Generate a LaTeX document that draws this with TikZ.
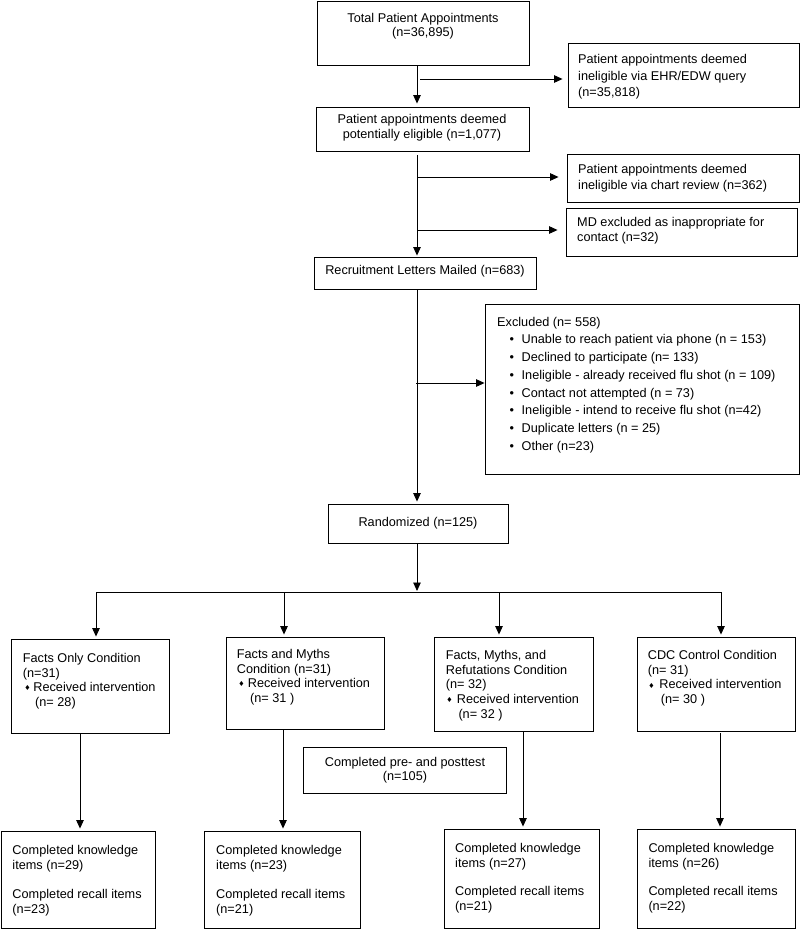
\documentclass[tikz,border=0pt]{standalone}
\usepackage{fontspec}
\setmainfont{Liberation Sans}
\newfontfamily\djv{DejaVu Sans}
\usetikzlibrary{arrows.meta}
\newcommand{\dmd}[1]{\makebox[#1][l]{\raisebox{0.8pt}{\djv\fontsize{7}{7}\selectfont ♦}}}
\newcommand{\bul}{\hspace*{12.5pt}\makebox[12pt][l]{\textbullet}}
\tikzset{
 box/.style={draw, line width=0.9pt, inner sep=0pt},
 lt/.style={anchor=north west, align=left, inner sep=0pt, font=\fontsize{12.7}{#1}\selectfont},
 lt/.default=16,
 ct/.style={anchor=north, align=center, inner sep=0pt, font=\fontsize{12.7}{#1}\selectfont},
 ct/.default=14,
 arr/.style={line width=0.9pt, -{Triangle[length=8.5pt,width=7.5pt]}},
 ln/.style={line width=0.9pt}
}
\begin{document}
\begin{tikzpicture}[x=1pt,y=-1pt]
\useasboundingbox (0,0) rectangle (800,929);
% boxes
\node[box, minimum width=212pt, minimum height=64pt] (b1) at (423,33) {};
\node[box, minimum width=231pt, minimum height=64pt] (ehr) at (683.5,75) {};
\node[box, minimum width=213pt, minimum height=44pt] (b2) at (422.5,129) {};
\node[box, minimum width=232pt, minimum height=48pt] (chart) at (683,178) {};
\node[box, minimum width=231pt, minimum height=48pt] (md) at (681.5,232) {};
\node[box, minimum width=222pt, minimum height=32pt] (b3) at (425,273) {};
\node[box, minimum width=314pt, minimum height=170pt] (excl) at (642,389) {};
\node[box, minimum width=180pt, minimum height=39pt] (rand) at (418,523.5) {};
\node[box, minimum width=158pt, minimum height=94pt] (c1) at (90,686) {};
\node[box, minimum width=158pt, minimum height=92pt] (c2) at (305,683) {};
\node[box, minimum width=159pt, minimum height=94pt] (c3) at (513.5,684) {};
\node[box, minimum width=158pt, minimum height=94pt] (c4) at (716,684) {};
\node[box, minimum width=203pt, minimum height=46pt] (pp) at (404.5,770) {};
\node[box, minimum width=154pt, minimum height=97pt] (k1) at (78,879.5) {};
\node[box, minimum width=156pt, minimum height=97pt] (k2) at (282,879.5) {};
\node[box, minimum width=155pt, minimum height=99pt] (k3) at (521.5,878.5) {};
\node[box, minimum width=158pt, minimum height=99pt] (k4) at (716,878.5) {};
% texts
\node[ct=14] (t1) at (423,13.5) {Total Patient Appointments\\(n=36,895)};
\node[lt=16.7] (tehr) at (578,54.1) {Patient appointments deemed\\ineligible via EHR/EDW query\\(n=35,818)};
\node[ct=14.5] (t2) at (422,114.3) {Patient appointments deemed\\potentially eligible (n=1,077)};
\node[lt=16.3] (tchart) at (578,163.8) {Patient appointments deemed\\ineligible via chart review (n=362)};
\node[lt=15] (tmd) at (577,217.3) {MD excluded as inappropriate for\\contact (n=32)};
\node[ct] (t3) at (425,264.8) {Recruitment Letters Mailed (n=683)};
\node[lt=17.7] (texcl) at (497,316.8) {Excluded (n= 558)\\
\bul Unable to reach patient via phone (n = 153)\\
\bul Declined to participate (n= 133)\\
\bul Ineligible - already received flu shot (n = 109)\\
\bul Contact not attempted (n = 73)\\
\bul Ineligible - intend to receive flu shot (n=42)\\
\bul Duplicate letters (n = 25)\\
\bul Other (n=23)};
\node[ct] (trand) at (418,517.5) {Randomized (n=125)};
\node[lt=14.6] (tc1) at (22.7,653.1) {Facts Only Condition\\(n=31)\\\hspace*{1.5pt}\dmd{9pt}Received intervention\\\hspace*{12.3pt}(n= 28)};
\node[lt=14.6] (tc2) at (236.7,649.1) {Facts and Myths\\Condition (n=31)\\\hspace*{1.5pt}\dmd{9.5pt}Received intervention\\\hspace*{13.3pt}(n= 31 )};
\node[lt=14.7] (tc3) at (445.7,650.1) {Facts, Myths, and\\Refutations Condition\\(n= 32)\\\hspace*{0.5pt}\dmd{10.5pt}Received intervention\\\hspace*{12.6pt}(n= 32 )};
\node[lt=14.7] (tc4) at (647.7,650.1) {CDC Control Condition\\(n= 31)\\\hspace*{0.5pt}\dmd{11pt}Received intervention\\\hspace*{13pt}(n= 30 )};
\node[ct] (tpp) at (405,756.8) {Completed pre- and posttest\\(n=105)};
\node[lt=15] (tk1) at (12.3,844.8) {Completed knowledge\\items (n=29)\\[14pt]Completed recall items\\(n=23)};
\node[lt=15] (tk2) at (216,844.8) {Completed knowledge\\items (n=23)\\[14pt]Completed recall items\\(n=21)};
\node[lt=15] (tk3) at (455,843.1) {Completed knowledge\\items (n=27)\\[13pt]Completed recall items\\(n=21)};
\node[lt=15] (tk4) at (648.3,843.1) {Completed knowledge\\items (n=26)\\[13pt]Completed recall items\\(n=22)};
% coordinates
\coordinate (tx) at (417,0);
\coordinate (s1) at (420,79);
\coordinate (s2) at (417,177);
\coordinate (s3) at (417,230);
\coordinate (s4) at (416,383);
\coordinate (hb) at (417,592);
\coordinate (hl) at (96,592);
\coordinate (h2) at (284,592);
\coordinate (h3) at (499,592);
\coordinate (hr) at (721,592);
\coordinate (d1) at (80,0);
\coordinate (d2) at (283,0);
\coordinate (d3) at (523,0);
\coordinate (d4) at (720,0);
% connectors
\draw[arr, shorten >=3pt] (b1.south -| tx) -- (b2.north -| tx);
\draw[arr, shorten >=5pt] (s1) -- (s1 -| ehr.west);
\draw[arr, shorten <=4pt, shorten >=1pt] (b2.south -| tx) -- (b3.north -| tx);
\draw[arr, shorten >=8pt] (s2) -- (s2 -| chart.west);
\draw[arr, shorten >=8pt] (s3) -- (s3 -| md.west);
\draw[arr, shorten >=2pt] (b3.south -| tx) -- (rand.north -| tx);
\draw[arr] (s4) -- (s4 -| excl.west);
\draw[arr, shorten >=1pt] (rand.south -| hb) -- (hb);
\draw[ln] (hl) -- (hr);
\draw[arr, shorten >=2pt] (hl) -- (c1.north -| hl);
\draw[arr, shorten >=2pt] (h2) -- (c2.north -| h2);
\draw[arr, shorten >=2pt] (h3) -- (c3.north -| h3);
\draw[arr, shorten >=2pt] (hr) -- (c4.north -| hr);
\draw[arr, shorten >=2pt] (c1.south -| d1) -- (k1.north -| d1);
\draw[arr, shorten >=2pt] (c2.south -| d2) -- (k2.north -| d2);
\draw[arr, shorten >=2pt] (c3.south -| d3) -- (k3.north -| d3);
\draw[arr, shorten <=2pt, shorten >=2pt] (c4.south -| d4) -- (k4.north -| d4);
\end{tikzpicture}
\end{document}
